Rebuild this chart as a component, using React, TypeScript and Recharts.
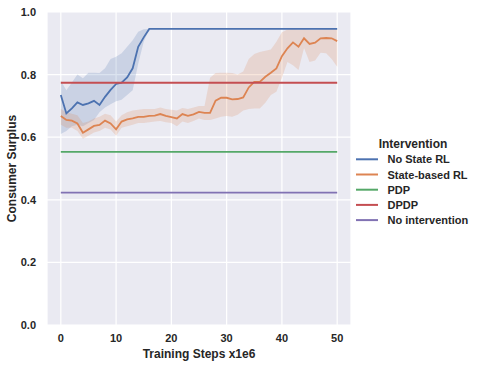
import React from 'react';
import { ComposedChart, Line, Area, XAxis, YAxis, CartesianGrid, Legend } from 'recharts';

const steps = Array.from({ length: 51 }, (_, i) => i);

const noStateRL = [
  0.735, 0.676, 0.692, 0.711, 0.703, 0.708, 0.716, 0.703, 0.729, 0.751,
  0.770, 0.774, 0.791, 0.820, 0.889, 0.919, 0.946, 0.946, 0.946, 0.946,
  0.946, 0.946, 0.946, 0.946, 0.946, 0.946, 0.946, 0.946, 0.946, 0.946,
  0.946, 0.946, 0.946, 0.946, 0.946, 0.946, 0.946, 0.946, 0.946, 0.946,
  0.946, 0.946, 0.946, 0.946, 0.946, 0.946, 0.946, 0.946, 0.946, 0.946,
  0.946,
];
const noStateRLLow = [
  0.610, 0.620, 0.635, 0.640, 0.635, 0.645, 0.655, 0.680, 0.695, 0.705,
  0.715, 0.720, 0.735, 0.750, 0.835, 0.905, 0.946, 0.946, 0.946, 0.946,
  0.946, 0.946, 0.946, 0.946, 0.946, 0.946, 0.946, 0.946, 0.946, 0.946,
  0.946, 0.946, 0.946, 0.946, 0.946, 0.946, 0.946, 0.946, 0.946, 0.946,
  0.946, 0.946, 0.946, 0.946, 0.946, 0.946, 0.946, 0.946, 0.946, 0.946,
  0.946,
];
const noStateRLHigh = [
  0.780, 0.750, 0.775, 0.800, 0.788, 0.806, 0.806, 0.805, 0.820, 0.850,
  0.857, 0.868, 0.889, 0.910, 0.937, 0.945, 0.946, 0.946, 0.946, 0.946,
  0.946, 0.946, 0.946, 0.946, 0.946, 0.946, 0.946, 0.946, 0.946, 0.946,
  0.946, 0.946, 0.946, 0.946, 0.946, 0.946, 0.946, 0.946, 0.946, 0.946,
  0.946, 0.946, 0.946, 0.946, 0.946, 0.946, 0.946, 0.946, 0.946, 0.946,
  0.946,
];

const stateBasedRL = [
  0.668, 0.655, 0.653, 0.644, 0.614, 0.625, 0.636, 0.639, 0.653, 0.644,
  0.625, 0.650, 0.657, 0.660, 0.665, 0.665, 0.668, 0.669, 0.674, 0.668,
  0.664, 0.660, 0.674, 0.668, 0.673, 0.681, 0.678, 0.678, 0.717, 0.726,
  0.726, 0.721, 0.722, 0.727, 0.759, 0.777, 0.777, 0.793, 0.806, 0.820,
  0.859, 0.884, 0.903, 0.889, 0.916, 0.898, 0.902, 0.916, 0.917, 0.916,
  0.907,
];
const stateBasedRLLow = [
  0.640, 0.630, 0.630, 0.620, 0.595, 0.605, 0.615, 0.620, 0.630, 0.625,
  0.605, 0.630, 0.635, 0.640, 0.645, 0.645, 0.648, 0.650, 0.652, 0.648,
  0.645, 0.635, 0.650, 0.645, 0.652, 0.660, 0.655, 0.655, 0.660, 0.665,
  0.668, 0.665, 0.672, 0.685, 0.690, 0.692, 0.692, 0.710, 0.735, 0.745,
  0.790, 0.840, 0.830, 0.815, 0.885, 0.840, 0.845, 0.870, 0.868, 0.850,
  0.825,
];
const stateBasedRLHigh = [
  0.690, 0.680, 0.675, 0.670, 0.645, 0.650, 0.660, 0.665, 0.675, 0.670,
  0.650, 0.670, 0.680, 0.685, 0.688, 0.690, 0.690, 0.690, 0.695, 0.690,
  0.688, 0.685, 0.693, 0.690, 0.695, 0.700, 0.700, 0.790, 0.805, 0.806,
  0.806, 0.805, 0.800, 0.810, 0.850, 0.866, 0.872, 0.876, 0.880, 0.905,
  0.935, 0.944, 0.946, 0.944, 0.946, 0.944, 0.943, 0.945, 0.946, 0.946,
  0.946,
];

const pdpValue = 0.553;
const dpdpValue = 0.774;
const noInterventionValue = 0.423;

const xTicks = [0, 10, 20, 30, 40, 50];
const yTicks = [0, 0.2, 0.4, 0.6, 0.8, 1.0];

const seriesNames = ['No State RL', 'State-based RL', 'PDP', 'DPDP', 'No intervention'];
const seriesColors = ['#4C72B0', '#DD8452', '#55A868', '#C44E52', '#8172B3'];

const data = steps.map((t, i) => ({
  t,
  nsr: noStateRL[i],
  nsrBand: [noStateRLLow[i], noStateRLHigh[i]],
  sbr: stateBasedRL[i],
  sbrBand: [stateBasedRLLow[i], stateBasedRLHigh[i]],
  pdp: pdpValue,
  dpdp: dpdpValue,
  none: noInterventionValue,
}));

const FONT = '"Liberation Sans", Arial, Helvetica, sans-serif';
const TEXT = '#262626';

const renderLegend = () => (
  <svg width={125} height={95} style={{ display: 'block' }}>
    <text x={61} y={9} textAnchor="middle" dominantBaseline="central"
      fontFamily={FONT} fontSize={12} fontWeight="bold" fill={TEXT}>Intervention</text>
    {seriesNames.map((name, i) => (
      <g key={name}>
        <line x1={4} x2={26} y1={24.3 + 15.2 * i} y2={24.3 + 15.2 * i}
          stroke={seriesColors[i]} strokeWidth={2} />
        <text x={35.5} y={24.3 + 15.2 * i} dominantBaseline="central"
          fontFamily={FONT} fontSize={11} fontWeight="bold" fill={TEXT}>{name}</text>
      </g>
    ))}
  </svg>
);

const tickStyle = { fontFamily: FONT, fontSize: 11, fontWeight: 'bold', fill: TEXT };

export default function App() {
  return (
    <div style={{ position: 'absolute', left: 0, top: 0, width: 477, height: 366, background: '#fff' }}>
      <ComposedChart width={477} height={366} data={data}
        margin={{ top: 12, right: 126, left: 0, bottom: 0 }}>
        <CartesianGrid fill="#EAEAF2" stroke="#ffffff" strokeWidth={1.2} />
        <XAxis dataKey="t" type="number" domain={[-2.5, 52.5]} ticks={xTicks}
          height={41} axisLine={false} tickLine={false} tickSize={0} tickMargin={9}
          tick={tickStyle} interval={0}
          label={{ value: 'Training Steps x1e6', position: 'insideBottom', offset: 8,
            style: { fontFamily: FONT, fontSize: 12, fontWeight: 'bold', fill: TEXT } }} />
        <YAxis type="number" domain={[0, 1]} ticks={yTicks} width={47}
          axisLine={false} tickLine={false} tickSize={0} tickMargin={11}
          tick={tickStyle} tickFormatter={(v: number) => v.toFixed(1)} interval={0}
          label={{ value: 'Consumer Surplus', angle: -90, position: 'insideLeft', offset: 12,
            style: { fontFamily: FONT, fontSize: 12, fontWeight: 'bold', fill: TEXT, textAnchor: 'middle' } }} />
        <Legend layout="horizontal" verticalAlign="middle" align="center" content={renderLegend}
          wrapperStyle={{ left: 352, top: 135, width: 125, height: 95 }} />
        <Area dataKey="nsrBand" type="linear" stroke="none" fill={seriesColors[0]} fillOpacity={0.2}
          isAnimationActive={false} legendType="none" />
        <Line dataKey="nsr" type="linear" stroke={seriesColors[0]} strokeWidth={1.8} dot={false}
          isAnimationActive={false} />
        <Area dataKey="sbrBand" type="linear" stroke="none" fill={seriesColors[1]} fillOpacity={0.2}
          isAnimationActive={false} legendType="none" />
        <Line dataKey="sbr" type="linear" stroke={seriesColors[1]} strokeWidth={1.8} dot={false}
          isAnimationActive={false} />
        <Line dataKey="pdp" type="linear" stroke={seriesColors[2]} strokeWidth={1.8} dot={false}
          isAnimationActive={false} />
        <Line dataKey="dpdp" type="linear" stroke={seriesColors[3]} strokeWidth={1.8} dot={false}
          isAnimationActive={false} />
        <Line dataKey="none" type="linear" stroke={seriesColors[4]} strokeWidth={1.8} dot={false}
          isAnimationActive={false} />
      </ComposedChart>
    </div>
  );
}
